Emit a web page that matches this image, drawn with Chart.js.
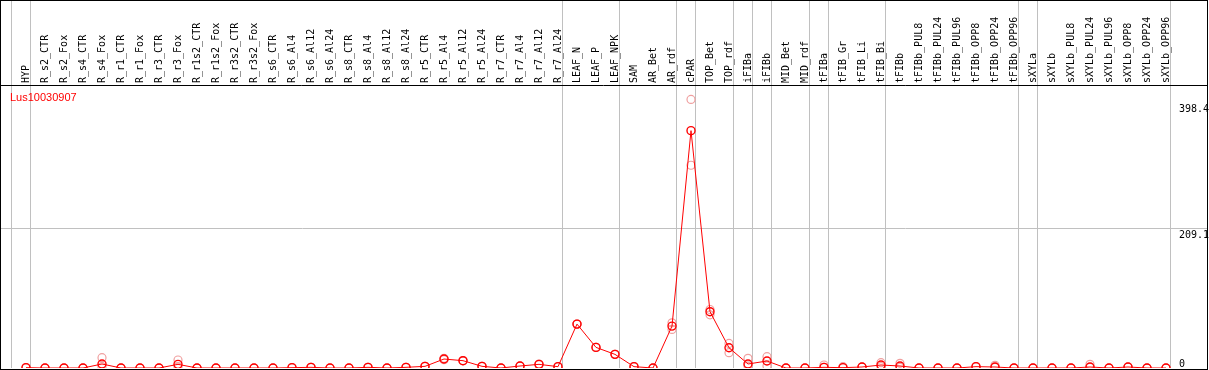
<!DOCTYPE html>
<html>
<head>
<meta charset="utf-8">
<script src="https://cdn.jsdelivr.net/npm/chart.js@4.4.1/dist/chart.umd.min.js"></script>
<style>
  html, body { margin: 0; padding: 0; background: #fff; }
  canvas { display: block; }
</style>
</head>
<body>
<canvas id="chart" width="1209" height="370"></canvas>
<script>
// gene name shown top-left
const geneName = 'Lus10030907';

// sample names (x categories)
const categories = [
  'HYP',
  'R_s2_CTR', 'R_s2_Fox', 'R_s4_CTR', 'R_s4_Fox', 'R_r1_CTR', 'R_r1_Fox', 'R_r3_CTR', 'R_r3_Fox',
  'R_r1s2_CTR', 'R_r1s2_Fox', 'R_r3s2_CTR', 'R_r3s2_Fox',
  'R_s6_CTR', 'R_s6_Al4', 'R_s6_Al12', 'R_s6_Al24', 'R_s8_CTR', 'R_s8_Al4', 'R_s8_Al12', 'R_s8_Al24',
  'R_r5_CTR', 'R_r5_Al4', 'R_r5_Al12', 'R_r5_Al24', 'R_r7_CTR', 'R_r7_Al4', 'R_r7_Al12', 'R_r7_Al24',
  'LEAF_N', 'LEAF_P', 'LEAF_NPK', 'SAM', 'AR_Bet', 'AR_rdf', 'cPAR', 'TOP_Bet', 'TOP_rdf',
  'iFIBa', 'iFIBb', 'MID_Bet', 'MID_rdf', 'tFIBa', 'tFIB_Gr', 'tFIB_Li', 'tFIB_Bi', 'tFIBb',
  'tFIBb_PUL8', 'tFIBb_PUL24', 'tFIBb_PUL96', 'tFIBb_OPP8', 'tFIBb_OPP24', 'tFIBb_OPP96',
  'sXYLa', 'sXYLb', 'sXYLb_PUL8', 'sXYLb_PUL24', 'sXYLb_PUL96', 'sXYLb_OPP8', 'sXYLb_OPP24', 'sXYLb_OPP96'
];

// mean expression per sample
const meanVals = [
  0.5,
  0, 0, 0, 6, 0, 0, 0, 5.5,
  0, 0, 0, 0,
  0, 0.5, 1, 0, 0, 1, 0, 1,
  2.5, 13.5, 11, 2.5, 0, 3, 5.5, 2,
  66, 31, 20.5, 2, 0, 63, 357, 84.7, 30.5,
  6, 10.5, 0, 0, 1, 0.5, 1.5, 4.5, 3,
  0, 0, 0, 2, 1.5, 0,
  0, 0, 0, 1.5, 0, 1.5, 0, 0
];

// replicate values (upper / lower)
const repHigh = [
  0.5,
  0, 0, 0, 15.5, 0, 0, 0, 12,
  0, 0, 0, 0,
  0, 0.5, 1, 0, 0, 1, 0, 1,
  2.5, 14.5, 11, 2.5, 0, 3, 6, 2,
  66, 31, 20.5, 2, 0, 68, 404, 88, 37,
  14.5, 17, 0, 0, 4.5, 2, 1.5, 8, 7,
  0, 0, 0, 2, 4, 0,
  0, 0, 0, 5.5, 0, 1.5, 0, 0
];
const repLow = [
  0.5,
  0, 0, 0, 2, 0, 0, 0, 2,
  0, 0, 0, 0,
  0, 0.5, 1, 0, 0, 1, 0, 1,
  2.5, 12.5, 11, 2.5, 0, 3, 5, 2,
  66, 31, 20.5, 2, 0, 58, 305, 80, 23,
  3, 3, 0, 0, 1, 0.5, 1.5, 2, 1,
  0, 0, 0, 2, 1, 0,
  0, 0, 0, 1, 0, 1.5, 0, 0
];

// y axis
const yTicks = [0, 209.1, 398.4];
const yMax = 425.7;

// separator lines drawn just after these sample indices
const groupEnds = [-1, 0, 28, 31, 34, 35, 37, 38, 39, 41, 42, 45, 52, 53, 60];

const xMin = -25 / 19;
const xMax = xMin + 1206 / 19;

const toPts = arr => arr.map((v, i) => ({ x: i, y: v }));

// separators, frame, title and y labels
const decorPlugin = {
  id: 'decor',
  beforeDatasetsDraw: chart => {
    const ctx = chart.ctx;
    const xs = chart.scales.x;
    const { bottom } = chart.chartArea;
    ctx.save();
    ctx.strokeStyle = '#c0c0c0';
    ctx.lineWidth = 1;
    groupEnds.forEach(g => {
      const px = Math.round(xs.getPixelForValue(g + 0.22)) + 0.5;
      ctx.beginPath(); ctx.moveTo(px, 0); ctx.lineTo(px, bottom); ctx.stroke();
    });
    ctx.restore();
  },
  afterDraw: chart => {
    const ctx = chart.ctx;
    const ys = chart.scales.y;
    const { top, bottom, right } = chart.chartArea;
    ctx.save();
    ctx.strokeStyle = '#000';
    ctx.lineWidth = 1;
    ctx.strokeRect(0.5, 0.5, right, bottom + 1);
    ctx.beginPath(); ctx.moveTo(0, top + 0.5); ctx.lineTo(right, top + 0.5); ctx.stroke();

    ctx.fillStyle = '#f00';
    ctx.font = '11px "Liberation Sans"';
    ctx.textBaseline = 'alphabetic';
    ctx.textAlign = 'left';
    ctx.fillText(geneName, 10, 101);

    ctx.fillStyle = '#000';
    ctx.font = '10px "DejaVu Sans Mono"';
    ctx.textBaseline = 'top';
    yTicks.forEach(v => {
      const py = Math.min(ys.getPixelForValue(v) + 1, bottom - 9);
      ctx.fillText(v === 0 ? '0' : v.toFixed(1), 1179, py);
    });
    ctx.restore();
  }
};

new Chart(document.getElementById('chart'), {
  type: 'line',
  data: {
    datasets: [
      {
        label: 'mean',
        data: toPts(meanVals),
        borderColor: '#ff0000',
        borderWidth: 1,
        pointRadius: 4,
        pointBorderWidth: 1.4,
        pointBorderColor: '#ff0000',
        pointBackgroundColor: 'rgba(0,0,0,0)',
        tension: 0,
        fill: false,
        clip: { left: 6, top: 6, right: 6, bottom: 0 }
      },
      {
        label: 'rep1',
        data: toPts(repHigh),
        showLine: false,
        pointRadius: 4,
        pointBorderWidth: 1.2,
        pointBorderColor: '#f0a0a0',
        pointBackgroundColor: 'rgba(0,0,0,0)',
        clip: { left: 6, top: 6, right: 6, bottom: 0 }
      },
      {
        label: 'rep2',
        data: toPts(repLow),
        showLine: false,
        pointRadius: 4,
        pointBorderWidth: 1.2,
        pointBorderColor: '#f0a0a0',
        pointBackgroundColor: 'rgba(0,0,0,0)',
        clip: { left: 6, top: 6, right: 6, bottom: 0 }
      }
    ]
  },
  options: {
    responsive: false,
    animation: false,
    events: [],
    layout: { autoPadding: false, padding: { top: 1, left: 1, right: 2, bottom: 2 } },
    plugins: { legend: { display: false }, tooltip: { enabled: false } },
    scales: {
      x: {
        type: 'linear',
        position: 'top',
        min: xMin,
        max: xMax,
        afterBuildTicks: s => { s.ticks = categories.map((_, i) => ({ value: i })); },
        afterFit: s => { s.height = 84; s.paddingLeft = 0; s.paddingRight = 0; },
        grid: { display: false, drawTicks: false },
        border: { display: false },
        ticks: {
          autoSkip: false,
          minRotation: 90,
          maxRotation: 90,
          padding: 2,
          labelOffset: 12,
          color: '#000',
          font: { family: 'DejaVu Sans Mono', size: 10 },
          callback: v => categories[v]
        }
      },
      y: {
        position: 'right',
        min: 0,
        max: yMax,
        afterBuildTicks: s => { s.ticks = yTicks.map(v => ({ value: v })); },
        afterFit: s => { s.width = 0; s.paddingTop = 0; s.paddingBottom = 0; },
        grid: {
          drawTicks: false,
          color: c => (c.tick && c.tick.value === 209.1 ? '#c0c0c0' : 'rgba(0,0,0,0)')
        },
        border: { display: false },
        ticks: { display: false }
      }
    }
  },
  plugins: [decorPlugin]
});
</script>
</body>
</html>
